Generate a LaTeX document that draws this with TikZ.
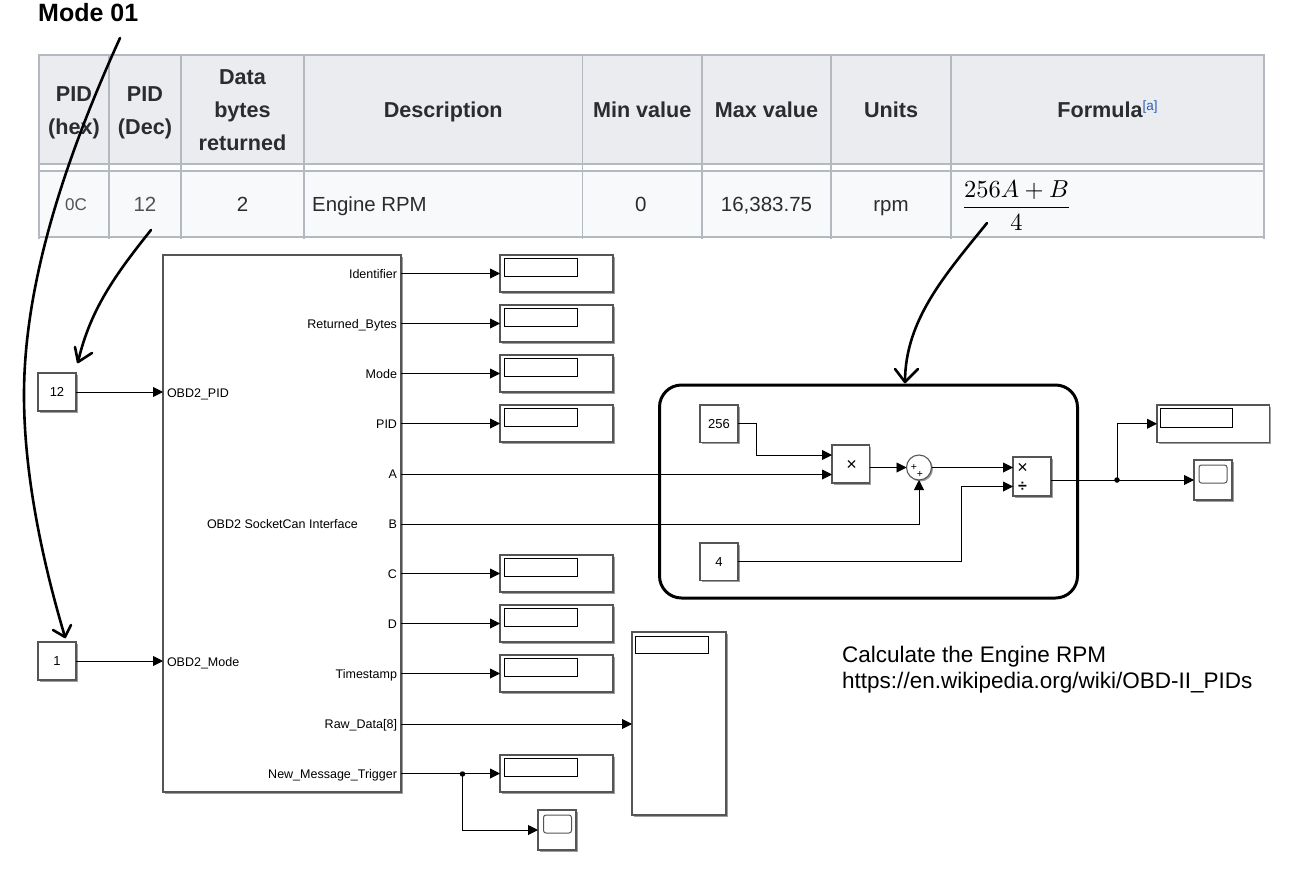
\documentclass[tikz,border=0pt]{standalone}
\usepackage{fontspec}
\setmainfont{Liberation Sans}
\usetikzlibrary{arrows.meta,shadows,calc}
\definecolor{thbg}{HTML}{EAECF0}
\definecolor{tdbg}{HTML}{F8F9FA}
\definecolor{tline}{HTML}{B4B9BF}
\definecolor{blkline}{HTML}{555555}
\definecolor{reflink}{HTML}{2A5DB8}
\definecolor{celltext}{HTML}{2B2C2E}
\newcommand{\fs}[1]{\fontsize{#1}{#1}\selectfont}
\tikzset{
  x=1pt,y=-1pt,
  blk/.style={draw=blkline,line width=1.2pt,fill=white,anchor=north west,inner sep=0pt,outer sep=0pt,
    drop shadow={shadow xshift=1.5pt,shadow yshift=-1.5pt,fill=black,opacity=.38}},
  inner/.style={draw=black,line width=.9pt,fill=white,anchor=north west,inner sep=0pt,outer sep=0pt,minimum width=73pt,minimum height=18pt},
  screen/.style={draw=blkline,line width=1pt,rounded corners=2.5pt,fill=white,anchor=north west,inner sep=0pt,outer sep=0pt,minimum width=28pt,minimum height=18pt},
  conn/.style={draw=black,line width=.9pt,-{Triangle[length=10pt,width=10pt]}},
  port/.style={font=\fs{12.5},text=black,inner sep=0pt,outer sep=0pt,text height=9pt,text depth=0pt},
  consttext/.style={font=\fs{13},text=black,text height=9.5pt,text depth=0pt},
  dot/.style={circle,fill=black,inner sep=0pt,minimum size=5.5pt},
  hand/.style={draw=black,line width=2.6pt,line cap=round,line join=round},
  thead/.style={draw=tline,line width=1.6pt,fill=thbg,anchor=north west,inner sep=0pt,outer sep=0pt,minimum height=109pt,
    align=center,text=celltext,font=\fontsize{21.6}{33}\selectfont\bfseries},
  thone/.style={thead,text height=15.5pt,text depth=0pt},
  headtext/.style={align=center,text=celltext,font=\fontsize{21.6}{33}\selectfont\bfseries,inner sep=0pt},
  tcell/.style={draw=tline,line width=1.6pt,fill=tdbg,anchor=north west,inner sep=0pt,outer sep=0pt,minimum height=66pt,
    text=celltext,font=\fs{20.5},text height=14.5pt,text depth=0pt},
  tick/.style={draw=tline,line width=1.4pt},
}
\begin{document}
\begin{tikzpicture}
\useasboundingbox (0,0) rectangle (1298,868);
\fill[white] (0,0) rectangle (1298,868);
% title
\node[font=\fs{25}\bfseries,anchor=west,inner sep=0pt,text=black] (title) at (38,13) {Mode 01};
% table header
\node[thead,minimum width=70pt]  (h1) at (39,55)  {};
\node[headtext] (h1t) at (74,112.5) {PID\\(hex)};
\node[thead,minimum width=72pt]  (h2) at (109,55) {};
\node[headtext] (h2t) at (145,112.5) {PID\\(Dec)};
\node[thead,minimum width=123pt] (h3) at (181,55) {};
\node[headtext] (h3t) at (242.5,110.5) {Data\\bytes\\returned};
\node[thone,minimum width=278.5pt] (h4) at (304,55) {Description};
\node[thone,minimum width=119.5pt] (h5) at (582.5,55) {Min value};
\node[thone,minimum width=129pt] (h6) at (702,55) {Max value};
\node[thone,minimum width=120pt] (h7) at (831,55) {Units};
\node[thone,minimum width=313pt] (h8) at (951,55) {Formula\raisebox{7pt}{\fs{13.5}\mdseries\textcolor{reflink}{[a]}}};
% table row
\node[tcell,minimum width=70pt,font=\fs{17},text=black!68,text height=13pt]  (d1) at (39,171)  {\hspace{4pt}0C};
\node[tcell,minimum width=72pt,text=black!68]  (d2) at (109,171) {12};
\node[tcell,minimum width=123pt] (d3) at (181,171) {2};
\node[tcell,minimum width=278.5pt] (d4) at (304,171) {};
\node[anchor=west,inner sep=0pt,font=\fs{20.4},text=celltext,text height=14.5pt,text depth=0pt] (d4t) at (312,204) {Engine RPM};
\node[tcell,minimum width=119.5pt] (d5) at (582.5,171) {\hspace{-3pt}0};
\node[tcell,minimum width=129pt] (d6) at (702,171) {16,383.75};
\node[tcell,minimum width=120pt] (d7) at (831,171) {rpm};
\node[tcell,minimum width=313pt] (d8) at (951,171) {};
\node[inner sep=0pt,scale=2.45,text=black] (formula) at (1016.5,205.5) {$\displaystyle\frac{256A+B}{4}$};
\foreach \tx in {39,109,181,304,582.5,702,831,951,1264}{
  \draw[tick] (\tx,164) -- (\tx,172);
  \draw[tick] (\tx,237) -- (\tx,239);
}
% main block
\node[blk,minimum width=238pt,minimum height=537pt] (main) at (163,255) {};
\node[port,anchor=west] (inpid) at (167,392.5) {OBD2\_PID};
\node[port,anchor=west] (inmode) at (167,661.5) {OBD2\_Mode};
\node[port,anchor=west] (mainname) at (207,523.5) {OBD2 SocketCan Interface};
\foreach \nm/\lab/\yy in {o1/Identifier/274,o2/Returned\_Bytes/324,o3/Mode/374,o4/PID/424,o5/A/474,o6/B/524,o7/C/574,o8/D/624,o9/Timestamp/674,o10/Raw\_Data[8]/724,o11/New\_Message\_Trigger/774}{
  \node[port,anchor=east] (\nm) at (397,\yy) {\lab};
}
% constants
\node[blk,minimum width=38pt,minimum height=38pt,consttext] (c12) at (38,373) {12};
\node[blk,minimum width=38pt,minimum height=38pt,consttext] (c1) at (38,642) {1};
\draw[conn] (c12.east) -- (main.west |- c12.east);
\draw[conn] (c1.east) -- (main.west |- c1.east);
% displays
\foreach \nm/\yy in {d_a/255,d_b/305,d_c/355,d_d/405,d_e/555,d_f/605,d_g/655,d_h/755}{
  \node[blk,minimum width=113pt,minimum height=37pt] (\nm) at (500,\yy) {};
  \node[inner] (\nm i) at (504,\yy+3.5) {};
}
\draw[conn] (main.east |- d_a.west) -- (d_a.west);
\draw[conn] (main.east |- d_b.west) -- (d_b.west);
\draw[conn] (main.east |- d_c.west) -- (d_c.west);
\draw[conn] (main.east |- d_d.west) -- (d_d.west);
\draw[conn] (main.east |- d_e.west) -- (d_e.west);
\draw[conn] (main.east |- d_f.west) -- (d_f.west);
\draw[conn] (main.east |- d_g.west) -- (d_g.west);
% big display
\node[blk,minimum width=94pt,minimum height=183pt] (bigd) at (632,632) {};
\node[inner,minimum height=17pt] (bigdi) at (635.5,636) {};
\draw[conn] (main.east |- 0,724) -- (bigd.west |- 0,724);
% trigger branch
\node[blk,minimum width=38pt,minimum height=40pt] (sc1) at (538,810) {};
\node[screen] (sc1i) at (543.5,815) {};
\node[dot] (j1) at (462.5,774) {};
\draw[conn] (main.east |- d_h.west) -- (d_h.west);
\draw[conn] (j1.center) |- (sc1.west);
% RPM group
\node[draw=black,line width=3pt,rounded corners=22pt,minimum width=418pt,minimum height=213pt,anchor=north west,inner sep=0pt,outer sep=0pt] (group) at (659.5,385) {};
\node[blk,minimum width=38pt,minimum height=37.5pt,consttext] (c256) at (700,405) {256};
\node[blk,minimum width=38pt,minimum height=37.5pt,consttext] (c4) at (700,543) {4};
\node[blk,minimum width=37.5pt,minimum height=38pt] (prod) at (832,445) {};
\node[font=\fs{18},inner sep=0pt] (prodx) at (851.5,465) {×};
\coordinate (prod1) at (832,455);
\coordinate (prod2) at (832,474.5);
\node[circle,draw=blkline,line width=1.1pt,fill=white,inner sep=0pt,outer sep=0pt,minimum size=25pt,drop shadow={shadow xshift=1.5pt,shadow yshift=-1.5pt,fill=black,opacity=.38}] (sum) at (919,467.5) {};
\node[font=\fs{10.5},inner sep=0pt] (sump1) at (914,467) {+};
\node[font=\fs{10.5},inner sep=0pt] (sump2) at (920,474) {+};
\node[blk,minimum width=38pt,minimum height=39pt] (divb) at (1013,457) {};
\node[font=\fs{18},inner sep=0pt] (divx) at (1022.5,468) {×};
\node[font=\fs{16}\bfseries,inner sep=0pt] (divd) at (1022.5,487) {÷};
\coordinate (div1) at (1013,467.5);
\coordinate (div2) at (1013,486.5);
\draw[conn] (c256.east) -- ++(18,0) |- (prod1);
\draw[conn] (main.east |- prod2) -- (prod2);
\draw[conn] (prod.east |- sum.west) -- (sum.west);
\draw[conn] (main.east |- 0,524) -| (sum.south);
\draw[conn] (sum.east) -- (div1);
\draw[conn] (c4.east) -- ++(223.5,0) |- (div2);
% outputs
\node[blk,minimum width=112.5pt,minimum height=37.5pt] (d_r) at (1157,405) {};
\node[inner,minimum width=72pt,minimum height=19pt] (d_ri) at (1160.5,408) {};
\node[blk,minimum width=38pt,minimum height=40pt] (sc2) at (1194,460) {};
\node[screen] (sc2i) at (1199,465) {};
\node[dot] (j2) at (1117,480) {};
\draw[conn] (divb.east |- sc2.west) -- (sc2.west);
\draw[conn] (j2.center) |- (d_r.west);
% caption
\node[anchor=north west,inner sep=0pt,align=left,font=\fontsize{22.5}{26}\selectfont,text=black] (caption) at (842,646) {Calculate the Engine RPM\\https://en.wikipedia.org/wiki/OBD-II\_PIDs};
% hand-drawn arrows
\coordinate (ha1) at (120,38);
\coordinate (ha1e) at (65,637);
\coordinate (ha1a) at (53,630);
\coordinate (ha1b) at (71,625);
\draw[hand] (ha1) .. controls (60,170) and (24,290) .. (24,395) .. controls (24,480) and (45,570) .. (ha1e);
\draw[hand] (ha1a) -- (ha1e) -- (ha1b);
\coordinate (ha2) at (151,230);
\coordinate (ha2e) at (78,362);
\coordinate (ha2a) at (75,347);
\coordinate (ha2b) at (92,353);
\draw[hand] (ha2) .. controls (115,275) and (90,310) .. (ha2e);
\draw[hand] (ha2a) -- (ha2e) -- (ha2b);
\coordinate (ha3) at (987,223);
\coordinate (ha3e) at (905,382);
\coordinate (ha3a) at (895,369);
\coordinate (ha3b) at (918,369);
\draw[hand] (ha3) .. controls (945,275) and (905,320) .. (ha3e);
\draw[hand] (ha3a) -- (ha3e) -- (ha3b);
\end{tikzpicture}
\end{document}
